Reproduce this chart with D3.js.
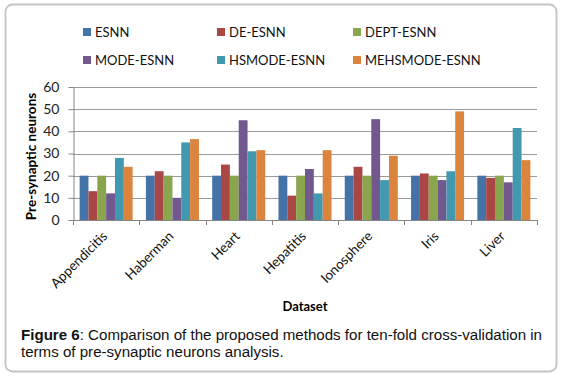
<!DOCTYPE html>
<html lang="en">
<head>
  <meta charset="UTF-8">
  <title>Pre-synaptic neurons</title>
  <script src="https://d3js.org/d3.v7.min.js"></script>
</head>
<body>
</body>
<style>
  body {
    margin: 0;
    padding: 0;
    background: #fff;
  }

  text {
    font-family: Lato, "Open Sans", sans-serif;
  }

  .caption text {
    font-family: "Liberation Sans", Arial, sans-serif;
  }
</style>
<script>
  const width = 563
  const height = 379

  const datasets = ['Appendicitis', 'Haberman', 'Heart', 'Hepatitis', 'Ionosphere', 'Iris', 'Liver']
  const methods = ['ESNN', 'DE-ESNN', 'DEPT-ESNN', 'MODE-ESNN', 'HSMODE-ESNN', 'MEHSMODE-ESNN']
  const colors = ['#4572a7', '#aa4643', '#89a54e', '#71588f', '#4198af', '#db843d']

  // one array per method, in dataset order
  const esnn = [20, 20, 20, 20, 20, 20, 20]
  const deEsnn = [13, 22, 25, 11, 24, 21, 19]
  const deptEsnn = [20, 20, 20, 20, 20, 20, 20]
  const modeEsnn = [12, 10, 45, 23, 45.5, 18, 17]
  const hsmodeEsnn = [28, 35, 31, 12, 18, 22, 41.5]
  const mehsmodeEsnn = [24, 36.5, 31.5, 31.5, 29, 49, 27]
  const series = [esnn, deEsnn, deptEsnn, modeEsnn, hsmodeEsnn, mehsmodeEsnn]

  const yTicks = [0, 10, 20, 30, 40, 50, 60]

  const margin = { left: 73, right: 537, top: 87, bottom: 220 }

  const svg = d3.select('body').append('svg')
    .attr('width', width)
    .attr('height', height)

  svg.append('rect')
    .attr('x', 5.5).attr('y', 4.5)
    .attr('width', 551).attr('height', 367)
    .attr('rx', 7)
    .attr('fill', '#fff')
    .attr('stroke', '#c4c4c4')
    .attr('stroke-width', 1.8)

  const x = d3.scaleBand()
    .domain(datasets)
    .range([margin.left, margin.right])
    .paddingInner(0.2)
    .paddingOuter(0.1)

  const xInner = d3.scaleBand()
    .domain(methods)
    .range([0, x.bandwidth()])

  const y = d3.scaleLinear()
    .domain([0, 60])
    .range([margin.bottom, margin.top])

  // gridlines
  svg.append('g')
    .selectAll('line')
    .data(yTicks.slice(1))
    .join('line')
    .attr('x1', margin.left).attr('x2', margin.right)
    .attr('y1', d => Math.round(y(d)) + 0.5)
    .attr('y2', d => Math.round(y(d)) + 0.5)
    .attr('stroke', '#9a9a9a')
    .attr('stroke-width', 1)

  // bars
  svg.append('g')
    .selectAll('g')
    .data(series)
    .join('g')
    .attr('fill', (d, i) => colors[i])
    .selectAll('rect')
    .data((vals, i) => vals.map((v, j) => ({ v, ds: datasets[j], m: methods[i] })))
    .join('rect')
    .attr('x', d => x(d.ds) + xInner(d.m))
    .attr('width', xInner.bandwidth())
    .attr('y', d => y(d.v))
    .attr('height', d => y(0) - y(d.v))

  // y axis
  const yAxis = svg.append('g')
    .attr('transform', `translate(${margin.left + 0.5},0)`)
    .call(d3.axisLeft(y).tickValues(yTicks).tickSize(5).tickPadding(9).tickSizeOuter(0))
  yAxis.select('.domain').attr('stroke', '#868686')
  yAxis.selectAll('.tick line').attr('stroke', '#868686')
  yAxis.selectAll('.tick text')
    .attr('font-size', 14)
    .attr('fill', '#222')
    .style('font-family', 'Lato, sans-serif')

  // x axis line + ticks between groups
  const step = x.step()
  const bounds = d3.range(datasets.length + 1).map(i => margin.left + i * step)
  svg.append('line')
    .attr('x1', margin.left).attr('x2', margin.right)
    .attr('y1', y(0) + 0.5).attr('y2', y(0) + 0.5)
    .attr('stroke', '#868686')
  svg.append('g')
    .selectAll('line')
    .data(bounds)
    .join('line')
    .attr('x1', d => Math.round(d) + 0.5).attr('x2', d => Math.round(d) + 0.5)
    .attr('y1', y(0)).attr('y2', y(0) + 5)
    .attr('stroke', '#868686')

  svg.append('g')
    .selectAll('text')
    .data(datasets)
    .join('text')
    .attr('transform', d => `translate(${x(d) + x.bandwidth() / 2 + 2},${y(0) + 17}) rotate(-45)`)
    .attr('text-anchor', 'end')
    .attr('font-size', 13.5)
    .attr('fill', '#111')
    .text(d => d)

  // axis titles
  svg.append('text')
    .attr('transform', `translate(36,${(margin.top + margin.bottom) / 2 + 3}) rotate(-90)`)
    .attr('text-anchor', 'middle')
    .attr('font-size', 13.5)
    .attr('font-weight', 'bold')
    .text('Pre-synaptic neurons')

  svg.append('text')
    .attr('x', (margin.left + margin.right) / 2)
    .attr('y', 311)
    .attr('text-anchor', 'middle')
    .attr('font-size', 13)
    .attr('font-weight', 'bold')
    .text('Dataset')

  // legend, 3 columns x 2 rows
  const legend = svg.append('g')
    .selectAll('g')
    .data(methods)
    .join('g')
    .attr('transform', (d, i) => `translate(${[83, 217, 353][i % 3]},${i < 3 ? 28 : 56})`)
  legend.append('rect')
    .attr('width', 8).attr('height', 8)
    .attr('fill', (d, i) => colors[i])
  legend.append('text')
    .attr('x', 12).attr('y', 8.5)
    .attr('font-size', 13)
    .attr('fill', '#111')
    .text(d => d)

  // caption
  const cap = svg.append('g').attr('class', 'caption')
  const line1 = cap.append('text')
    .attr('x', 21).attr('y', 340)
    .attr('font-size', 15.1)
    .attr('fill', '#111')
  line1.append('tspan').attr('font-weight', 'bold').text('Figure 6')
  line1.append('tspan').text(': Comparison of the proposed methods for ten-fold cross-validation in')
  cap.append('text')
    .attr('x', 21).attr('y', 357)
    .attr('font-size', 15.1)
    .attr('fill', '#111')
    .text('terms of pre-synaptic neurons analysis.')
</script>
</html>
